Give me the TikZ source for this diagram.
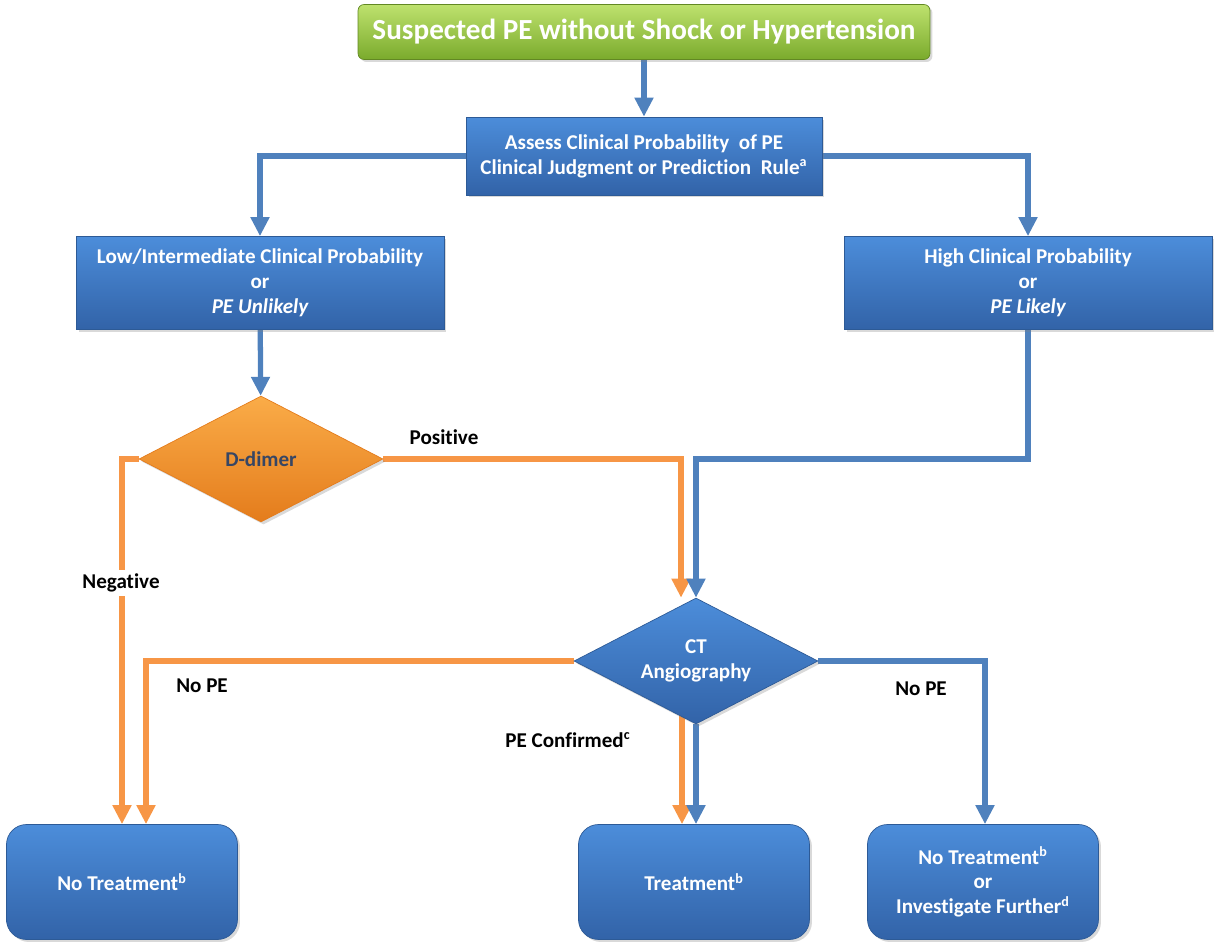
\documentclass[tikz,border=0pt]{standalone}
\usepackage{fontspec}
\setmainfont{Carlito}[Ligatures=NoCommon]
\usetikzlibrary{shapes.geometric,arrows.meta,calc,shadows,backgrounds}

\definecolor{boxtop}{RGB}{76,141,218}
\definecolor{boxbot}{RGB}{50,99,168}
\definecolor{boxline}{RGB}{45,90,150}
\definecolor{greentop}{RGB}{190,226,110}
\definecolor{greenbot}{RGB}{122,170,44}
\definecolor{ortop}{RGB}{250,172,72}
\definecolor{orbot}{RGB}{228,124,28}
\definecolor{linkblue}{RGB}{79,129,189}
\definecolor{linkorange}{RGB}{247,150,70}
\definecolor{dimertext}{RGB}{55,70,100}

\tikzset{
  txt/.style={font=\fontsize{12}{14.2}\selectfont\bfseries, align=center},
  bluebox/.style={txt, text=white, draw=boxline, line width=0.4pt, top color=boxtop, bottom color=boxbot,
    drop shadow={opacity=0.3, shadow xshift=0.05cm, shadow yshift=-0.05cm}},
  flatbox/.style={bluebox, rectangle, minimum width=#1},
  endbox/.style={bluebox, rectangle, rounded corners=0.4cm, minimum width=4.62cm, minimum height=2.3cm},
  choice/.style={txt, diamond, aspect=2, inner sep=0pt, minimum width=4.88cm, minimum height=2.52cm,
    drop shadow={opacity=0.3, shadow xshift=0.05cm, shadow yshift=-0.05cm}},
  bluelink/.style={draw=linkblue, line width=3pt, -{Triangle[length=0.38cm, width=0.36cm]}},
  orangelink/.style={draw=linkorange, line width=3pt, -{Triangle[length=0.38cm, width=0.36cm]}},
  tag/.style={txt, text=black}
}

\begin{document}
\begin{tikzpicture}[x=0.02cm, y=-0.02cm]
    \useasboundingbox (0,0) rectangle (1218,947);
    \node[bluebox, rectangle, rounded corners=0.12cm, top color=greentop, bottom color=greenbot, draw=greenbot!80!black,
      minimum width=11.44cm, minimum height=1.1cm, font=\fontsize{16.6}{19}\selectfont\bfseries] (start) at (644,32)
      {Suspected PE without Shock or Hypertension};
    \node[flatbox=7.12cm, minimum height=1.56cm] (assess) at (644,156)
      {Assess Clinical Probability\ \ of PE\\Clinical Judgment or Prediction\ \ Rule\textsuperscript{a}};
    \node[flatbox=7.36cm, minimum height=1.86cm] (low) at (260,283)
      {Low/Intermediate Clinical Probability\\or\\\itshape PE Unlikely};
    \node[flatbox=7.36cm, minimum height=1.86cm] (high) at (1028,283)
      {High Clinical Probability\\or\\\itshape PE Likely};
    \node[choice, top color=ortop, bottom color=orbot, draw=orbot, text=dimertext] (dimer) at (261,459) {D-dimer};
    \node[choice, top color=boxtop, bottom color=boxbot, draw=boxline, text=white] (ct) at (696,661) {CT\\Angiography};
    \node[endbox] (none) at (122,882) {No Treatment\textsuperscript{b}};
    \node[endbox] (treat) at (694,882) {Treatment\textsuperscript{b}};
    \node[endbox] (other) at (983,882) {No Treatment\textsuperscript{b}\\or\\Investigate Further\textsuperscript{d}};

    \begin{scope}[on background layer]
    \draw[bluelink] (start) -- (assess);
    \draw[bluelink] (assess.west) -| (low.north);
    \draw[bluelink] (assess.east) -| (high.north);
    \draw[bluelink] (low) -- (dimer);
    \draw[orangelink] (dimer.west) -| (none.north);
    \draw[orangelink] (dimer.east) -| ($(ct.north)+(-15,0)$);
    \draw[bluelink] (high.south) -- (high.south |- dimer.east) -| (ct.north);
    \draw[orangelink] (ct.west) -| ($(none.north)+(24,0)$);
    \draw[bluelink] (ct.east) -| ($(other.north)+(2,0)$);
    \draw[orangelink] ($(ct.south)+(-14,-10)$) -- ($(ct.south |- treat.north)+(-14,0)$);
    \draw[bluelink] (ct.south) -- (ct.south |- treat.north);
    \end{scope}

    \node[tag] (pos) at (444,437) {Positive};
    \node[tag, fill=white, inner sep=2pt] (neg) at (121,583) {Negative};
    \node[tag] (nope1) at (202,686) {No PE};
    \node[tag] (nope2) at (921,689) {No PE};
    \node[tag] (conf) at (568,740) {PE Confirmed\textsuperscript{c}};
\end{tikzpicture}
\end{document}
